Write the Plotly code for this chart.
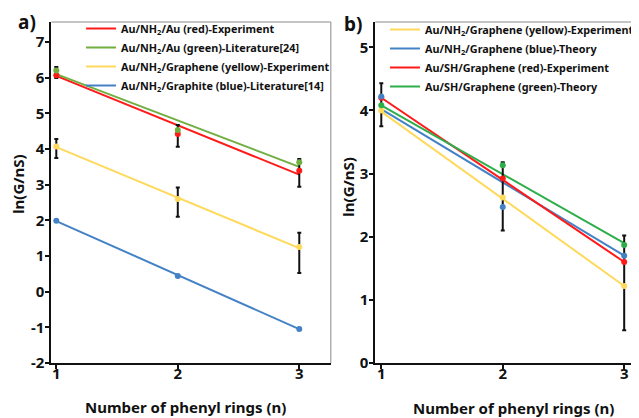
import plotly.graph_objects as go

# ---------------- data ----------------
n = [1, 2, 3]
n_fit = [1, 3]

# Panel a
a_red_pts = [6.07, 4.42, 3.39]
a_red_fit = [6.05, 3.28]
a_red_err_plus = [0.23, 0.25, 0.33]
a_red_err_minus = [0.08, 0.36, 0.45]
a_green_pts = [6.2, 4.53, 3.63]
a_green_fit = [6.1, 3.5]
a_yellow_pts = [4.07, 2.6, 1.25]
a_yellow_fit = [4.05, 1.22]
a_yellow_err_plus = [0.21, 0.32, 0.4]
a_yellow_err_minus = [0.32, 0.5, 0.73]
a_blue_pts = [1.99, 0.44, -1.05]
a_blue_fit = [1.98, -1.05]
a_yticks = [-2, -1, 0, 1, 2, 3, 4, 5, 6, 7]
a_yticktext = ["-2", "-1", "0", "1", "2", "3", "4", "5", "6", "7"]

# Panel b
b_yellow_pts = [4.0, 2.62, 1.22]
b_yellow_fit = [3.98, 1.22]
b_blue_pts = [4.22, 2.47, 1.7]
b_blue_fit = [4.02, 1.7]
b_red_pts = [4.2, 2.92, 1.6]
b_red_fit = [4.2, 1.6]
b_red_err_plus = [0.23, 0.26, 0.42]
b_red_err_minus = [0.45, 0.82, 1.08]
b_green_pts = [4.08, 3.13, 1.87]
b_green_fit = [4.08, 1.9]
b_yticks = [0, 1, 2, 3, 4, 5]

names_a = ["Au/NH<sub>2</sub>/Au (red)-Experiment",
           "Au/NH<sub>2</sub>/Au (green)-Literature[24]",
           "Au/NH<sub>2</sub>/Graphene (yellow)-Experiment",
           "Au/NH<sub>2</sub>/Graphite (blue)-Literature[14]"]
names_b = ["Au/NH<sub>2</sub>/Graphene (yellow)-Experiment",
           "Au/NH<sub>2</sub>/Graphene (blue)-Theory",
           "Au/SH/Graphene (red)-Experiment",
           "Au/SH/Graphene (green)-Theory"]
x_title = "Number of phenyl rings (n)"
y_title = "ln(G/nS)"

RED = "#FF1A1A"
GREEN_A = "#6FAE3F"
GREEN_B = "#2DAE4A"
YELLOW = "#FFD95C"
BLUE = "#4482C6"

FONT = "Noto Sans"
INK = "#111111"

# the page body has an 8px margin; size the figure to the visible area
OFF = 8
W, H = 639 - OFF, 418 - OFF

def px(X):
    return (X - OFF) / W

def py(Y):
    return 1 - (Y - OFF) / H

fig = go.Figure()

def fit_line(y, color, name, xa, ya, legend):
    fig.add_trace(go.Scatter(x=n_fit, y=y, mode="lines", name=name,
                             line=dict(color=color, width=2),
                             xaxis=xa, yaxis=ya, legend=legend))

def points(y, color, xa, ya, ep=None, em=None):
    err = None
    if ep is not None:
        err = dict(type="data", symmetric=False, array=ep, arrayminus=em,
                   color=INK, thickness=2, width=2)
    fig.add_trace(go.Scatter(x=n, y=y, mode="markers", showlegend=False,
                             marker=dict(color=color, size=6),
                             error_y=err, xaxis=xa, yaxis=ya))

# Panel a
fit_line(a_red_fit, RED, names_a[0], "x", "y", "legend")
fit_line(a_green_fit, GREEN_A, names_a[1], "x", "y", "legend")
fit_line(a_yellow_fit, YELLOW, names_a[2], "x", "y", "legend")
fit_line(a_blue_fit, BLUE, names_a[3], "x", "y", "legend")
points(a_red_pts, RED, "x", "y", a_red_err_plus, a_red_err_minus)
points(a_green_pts, GREEN_A, "x", "y")
points(a_yellow_pts, YELLOW, "x", "y", a_yellow_err_plus, a_yellow_err_minus)
points(a_blue_pts, BLUE, "x", "y")

# Panel b
fit_line(b_yellow_fit, YELLOW, names_b[0], "x2", "y2", "legend2")
fit_line(b_blue_fit, BLUE, names_b[1], "x2", "y2", "legend2")
fit_line(b_red_fit, RED, names_b[2], "x2", "y2", "legend2")
fit_line(b_green_fit, GREEN_B, names_b[3], "x2", "y2", "legend2")
points(b_red_pts, RED, "x2", "y2", b_red_err_plus, b_red_err_minus)
points(b_yellow_pts, YELLOW, "x2", "y2")
points(b_green_pts, GREEN_B, "x2", "y2")
points(b_blue_pts, BLUE, "x2", "y2")

tickfont = dict(family=FONT, size=15, color=INK, weight="bold")
titlefont = dict(family=FONT, size=15, color=INK, weight="bold")
legfont = dict(family=FONT, size=10.8, color=INK, weight="bold")

common_x = dict(showgrid=False, zeroline=False, showline=True, linecolor=INK,
                linewidth=2, ticks="outside", ticklen=4, tickwidth=1.5, tickcolor=INK,
                tickvals=n, tickfont=tickfont, automargin=False, ticklabelstandoff=-8)
common_y = dict(showgrid=False, zeroline=False, showline=True, linecolor=INK,
                linewidth=2, ticks="outside", ticklen=4, tickwidth=1.5, tickcolor=INK,
                tickfont=tickfont, automargin=False, ticklabelstandoff=-2)

ydom = [py(363), py(22)]
fig.update_layout(
    width=W, height=H,
    margin=dict(l=0, r=0, t=0, b=0),
    plot_bgcolor="white", paper_bgcolor="white",
    xaxis=dict(common_x, domain=[px(52), px(335)], range=[0.96, 3.26], anchor="y"),
    yaxis=dict(common_y, domain=ydom, range=[-2, 7.56], tickvals=a_yticks,
               ticktext=a_yticktext, anchor="x"),
    xaxis2=dict(common_x, domain=[px(380), 1.0], range=[0.9506, 3.056], anchor="y2"),
    yaxis2=dict(common_y, domain=ydom, range=[0, 5.4], tickvals=b_yticks, anchor="x2"),
    legend=dict(x=px(82), y=py(14), xanchor="left", yanchor="top",
                bgcolor="rgba(0,0,0,0)", tracegroupgap=0, itemwidth=30, font=legfont),
    legend2=dict(x=px(390), y=py(15), xanchor="left", yanchor="top",
                 bgcolor="rgba(0,0,0,0)", tracegroupgap=0, itemwidth=30, font=legfont),
    shapes=[
        dict(type="line", xref="x domain", yref="y domain", x0=0, x1=1, y0=1, y1=1,
             line=dict(color="#8a8a8a", width=1)),
        dict(type="line", xref="x domain", yref="y domain", x0=1, x1=1, y0=0, y1=1,
             line=dict(color="#8a8a8a", width=1)),
        dict(type="line", xref="x2 domain", yref="y2 domain", x0=0, x1=1, y0=1, y1=1,
             line=dict(color="#8a8a8a", width=1)),
    ],
    annotations=[
        dict(text="a)", x=px(16), y=py(22), xref="paper", yref="paper",
             xanchor="left", yanchor="middle", showarrow=False,
             font=dict(family=FONT, size=19, color=INK, weight="bold")),
        dict(text="b)", x=px(346), y=py(24), xref="paper", yref="paper",
             xanchor="left", yanchor="middle", showarrow=False,
             font=dict(family=FONT, size=19, color=INK, weight="bold")),
        dict(text=x_title, x=px(188), y=py(407), xref="paper", yref="paper",
             xanchor="center", yanchor="middle", showarrow=False, font=titlefont),
        dict(text=x_title, x=px(520), y=py(408), xref="paper", yref="paper",
             xanchor="center", yanchor="middle", showarrow=False, font=titlefont),
        dict(text=y_title, x=px(18), y=py(184), xref="paper", yref="paper",
             xanchor="center", yanchor="middle", showarrow=False, textangle=-90,
             font=titlefont),
        dict(text=y_title, x=px(352), y=py(187), xref="paper", yref="paper",
             xanchor="center", yanchor="middle", showarrow=False, textangle=-90,
             font=titlefont),
    ],
)

fig.write_html("out.html")
